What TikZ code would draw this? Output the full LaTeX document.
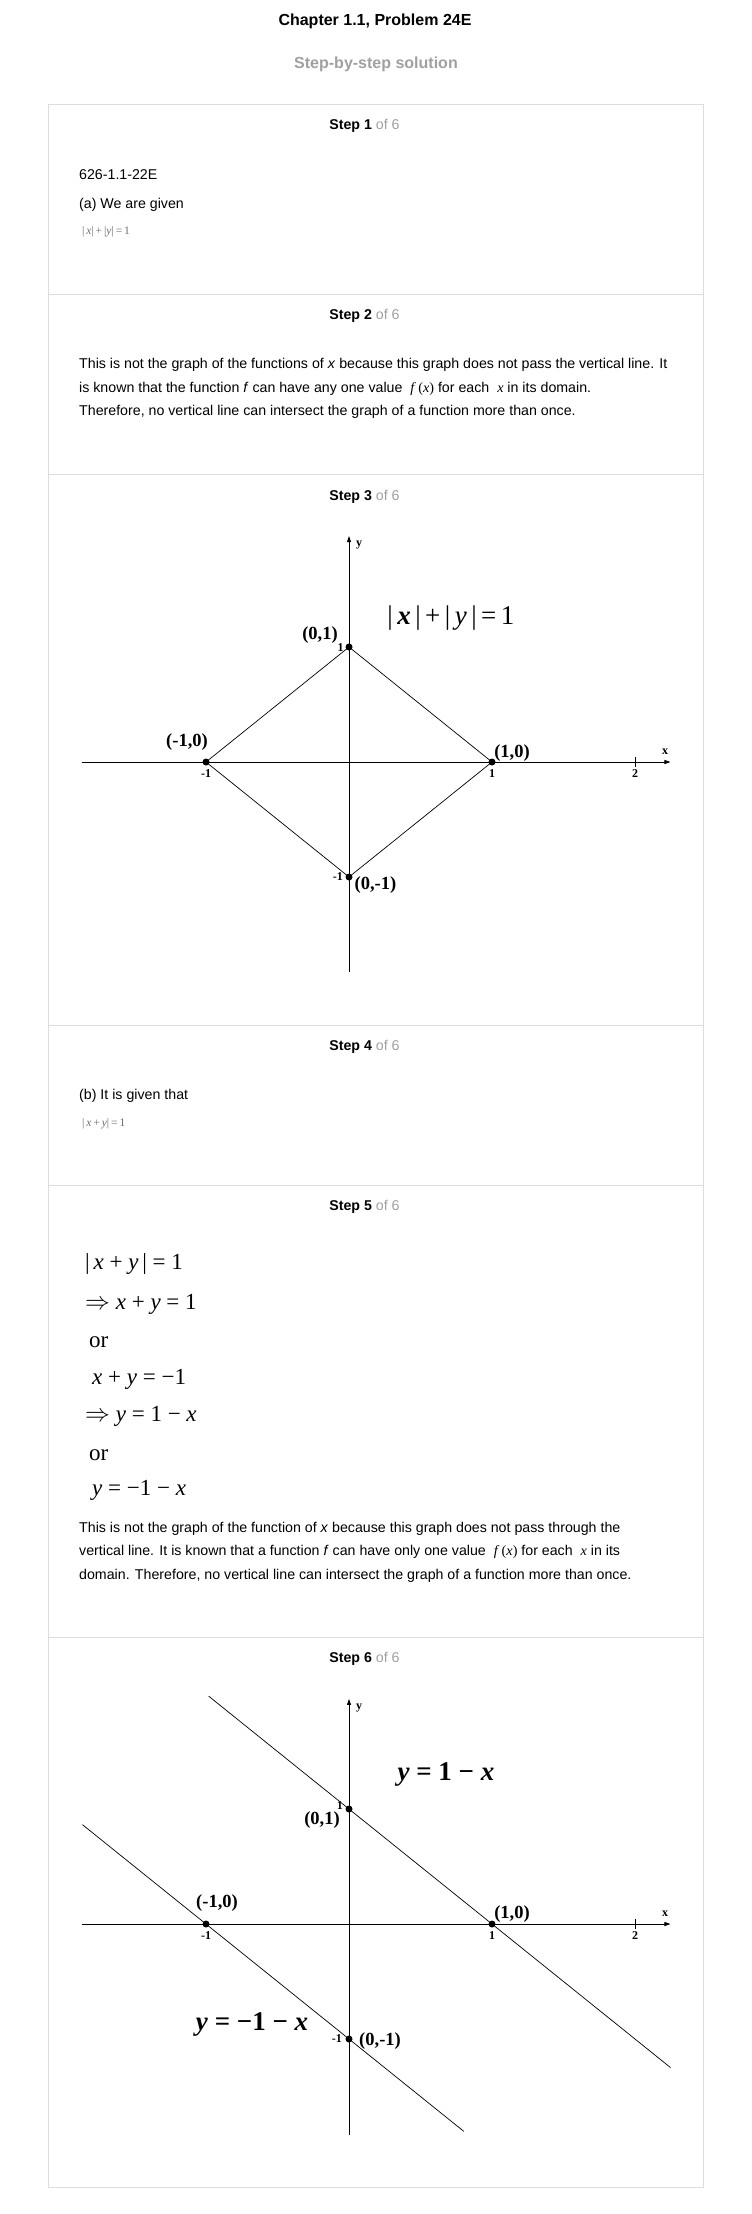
\documentclass[tikz,border=0pt]{standalone}
\usepackage{fontspec}
\setmainfont{Liberation Sans}
\newfontfamily\tnr{Liberation Serif}
\usetikzlibrary{arrows.meta}
\definecolor{boxgray}{RGB}{221,221,221}
\definecolor{ofgray}{RGB}{160,160,160}
\definecolor{imggray}{RGB}{110,110,110}
\newcommand{\var}[1]{\textit{#1}}
\tikzset{
  boxline/.style={draw=boxgray, line width=1pt},
  stephead/.style={font=\fontsize{14.2}{16}\selectfont},
  bodytext/.style={font=\fontsize{14.2}{23.5}\selectfont, anchor=west, inner sep=0pt},
  para/.style={font=\fontsize{14.2}{23.5}\selectfont, anchor=north west, inner sep=0pt, align=left},
  smalleq/.style={font=\tnr\fontsize{11.5}{13}\selectfont, text=imggray, anchor=west, inner sep=0pt},
  bigeq/.style={font=\tnr\fontsize{23}{25}\selectfont, anchor=west, inner sep=0pt},
  lineeq/.style={font=\tnr\bfseries\fontsize{27}{29}\selectfont},
  axis/.style={line width=0.8pt, -{Triangle[length=6pt,width=4pt]}},
  curve/.style={line width=0.7pt},
  dot/.style={circle, fill=black, inner sep=0pt, minimum size=7pt},
  ptlabel/.style={font=\tnr\bfseries\fontsize{18.5}{20}\selectfont, inner sep=0pt},
  ticklabel/.style={font=\tnr\bfseries\fontsize{12}{13}\selectfont, inner sep=0pt},
}
\begin{document}
\begin{tikzpicture}[x=1pt,y=-1pt]
    \useasboundingbox (0,0) rectangle (752,2214);
    \node[font=\bfseries\fontsize{16}{18}\selectfont] (title) at (375,21) {Chapter 1.1, Problem 24E};
    \node[font=\bfseries\fontsize{16}{18}\selectfont, text=ofgray] (subtitle) at (376,64) {Step-by-step solution};
    \draw[boxline] (48.5,104) rectangle (703,2187);
    \draw[boxline] (48.5,294)--(703,294);
    \draw[boxline] (48.5,474)--(703,474);
    \draw[boxline] (48.5,1025)--(703,1025);
    \draw[boxline] (48.5,1185)--(703,1185);
    \draw[boxline] (48.5,1637)--(703,1637);

    \node[stephead] (step1) at (364.5,126) {\textbf{Step 1} \textcolor{ofgray}{of 6}};
    \node[bodytext] (code) at (79,175) {626-1.1-22E};
    \node[bodytext] (givenA) at (79,205) {(a) We are given};
    \node[smalleq] (eqA) at (82,232) {|\,\var{x}|\,+\,|\var{y}|\,=\,1};

    \node[stephead] (step2) at (364.5,315.5) {\textbf{Step 2} \textcolor{ofgray}{of 6}};
    \node[para] (textA) at (79,358.5) {This is not the graph of the functions of \textit{x} because this graph does not pass the vertical line. It\\
      is known that the function \textit{f} can have any one value \ {\tnr\var{f}\,(\var{x})}\ for each \ {\tnr\var{x}}\ in its domain.\\
      Therefore, no vertical line can intersect the graph of a function more than once.};

    \node[stephead] (step3) at (364.5,497) {\textbf{Step 3} \textcolor{ofgray}{of 6}};
    \begin{scope}[shift={(349pt,-762pt)}, x=143pt, y=115pt]
        \coordinate (xl3) at (-1.864,0);
        \coordinate (xr3) at (2.248,0);
        \coordinate (yb3) at (0,-1.826);
        \coordinate (yt3) at (0,1.965);
        \draw[axis] (xl3)--(xr3);
        \draw[axis] (yb3)--(yt3);
        \draw[line width=0.8pt] (2,-0.045)--(2,0.045);
        \node[dot] (m3) at (-1,0) {};
        \node[dot] (p3) at (1,0) {};
        \node[dot] (t3) at (0,1) {};
        \node[dot] (b3) at (0,-1) {};
        \draw[curve] (m3.center)--(t3.center)--(p3.center)--(b3.center)--(m3.center);
        \node[ticklabel] (xlab3) at (2.21,0.087) {x};
        \node[ticklabel] (ylab3) at (0.07,1.887) {y};
        \node[ticklabel] (tm3) at (-1,-0.1) {-1};
        \node[ticklabel] (tp3) at (1,-0.1) {1};
        \node[ticklabel] (tt3) at (2,-0.1) {2};
        \node[ticklabel] (ty3) at (-0.059,0.996) {1};
        \node[ticklabel] (tb3) at (-0.077,-1.0) {-1};
        \node[ptlabel] (lt3) at (-0.203,1.104) {(0,1)};
        \node[ptlabel] (lm3) at (-1.133,0.174) {(-1,0)};
        \node[ptlabel] (lp3) at (1.14,0.078) {(1,0)};
        \node[ptlabel] (lb3) at (0.185,-1.07) {(0,-1)};
        \node[font=\tnr\fontsize{27}{29}\selectfont] (eq3) at (0.713,1.252) {|\,\textbf{\var{x}}\,|\,+\,|\,\var{y}\,|\,=\,1};
    \end{scope}

    \node[stephead] (step4) at (364.5,1047) {\textbf{Step 4} \textcolor{ofgray}{of 6}};
    \node[bodytext] (givenB) at (79,1096) {(b) It is given that};
    \node[smalleq] (eqB) at (82,1123.5) {|\,\var{x}\,+\,\var{y}|\,=\,1};

    \node[stephead] (step5) at (364.5,1207) {\textbf{Step 5} \textcolor{ofgray}{of 6}};
    \node[bigeq] (e1) at (85,1264) {|\,\var{x} + \var{y}\,| = 1};
    \node[bigeq] (e2) at (85,1304) {$\Rightarrow$ \var{x} + \var{y} = 1};
    \node[bigeq] (e3) at (89,1342) {or};
    \node[bigeq] (e4) at (92,1379) {\var{x} + \var{y} = −1};
    \node[bigeq] (e5) at (85,1416) {$\Rightarrow$ \var{y} = 1 − \var{x}};
    \node[bigeq] (e6) at (89,1455) {or};
    \node[bigeq] (e7) at (92,1490) {\var{y} = −1 − \var{x}};
    \node[para] (textB) at (79,1521.5) {This is not the graph of the function of \textit{x} because this graph does not pass through the\\
      vertical line. It is known that a function \textit{f} can have only one value \ {\tnr\var{f}\,(\var{x})}\ for each \ {\tnr\var{x}}\ in its\\
      domain. Therefore, no vertical line can intersect the graph of a function more than once.};

    \node[stephead] (step6) at (364.5,1659) {\textbf{Step 6} \textcolor{ofgray}{of 6}};
    \begin{scope}[shift={(349pt,-1924pt)}, x=143pt, y=115pt]
        \coordinate (xl6) at (-1.864,0);
        \coordinate (xr6) at (2.248,0);
        \coordinate (yb6) at (0,-1.835);
        \coordinate (yt6) at (0,1.957);
        \draw[axis] (xl6)--(xr6);
        \draw[axis] (yb6)--(yt6);
        \draw[line width=0.8pt] (2,-0.045)--(2,0.045);
        \coordinate (ua) at (-0.982,1.982);
        \coordinate (ub) at (2.248,-1.248);
        \coordinate (la) at (-1.864,0.864);
        \coordinate (lb) at (0.803,-1.803);
        \draw[curve] (ua)--(ub);
        \draw[curve] (la)--(lb);
        \node[dot] (m6) at (-1,0) {};
        \node[dot] (p6) at (1,0) {};
        \node[dot] (t6) at (0,1) {};
        \node[dot] (b6) at (0,-1) {};
        \node[ticklabel] (xlab6) at (2.21,0.087) {x};
        \node[ticklabel] (ylab6) at (0.07,1.878) {y};
        \node[ticklabel] (tm6) at (-1,-0.1) {-1};
        \node[ticklabel] (tp6) at (1,-0.1) {1};
        \node[ticklabel] (tt6) at (2,-0.1) {2};
        \node[ticklabel] (ty6) at (-0.063,1.026) {1};
        \node[ticklabel] (tb6) at (-0.084,-1.0) {-1};
        \node[ptlabel] (lt6) at (-0.189,0.904) {(0,1)};
        \node[ptlabel] (lm6) at (-0.923,0.183) {(-1,0)};
        \node[ptlabel] (lp6) at (1.14,0.087) {(1,0)};
        \node[ptlabel] (lb6) at (0.217,-1.02) {(0,-1)};
        \node[lineeq] (equ6) at (0.678,1.296) {\var{y} = 1 − \var{x}};
        \node[lineeq] (eql6) at (-0.678,-0.87) {\var{y} = −1 − \var{x}};
    \end{scope}
\end{tikzpicture}
\end{document}
